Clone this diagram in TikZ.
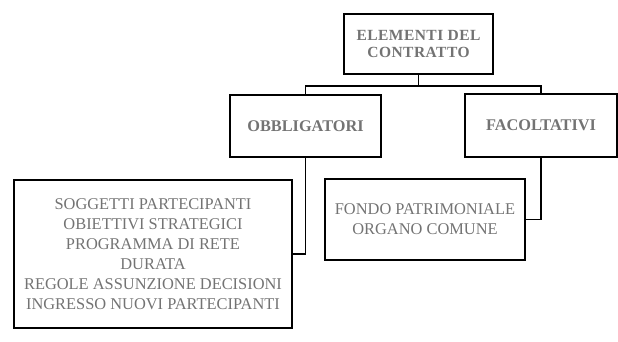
\documentclass[tikz,border=0pt]{standalone}
\usepackage{fontspec}
\setmainfont{Liberation Serif}
\usepackage{tikz}
\usetikzlibrary{positioning}
\definecolor{testo}{RGB}{115,115,115}

\begin{document}
\begin{tikzpicture}[x=1pt,y=1pt,
  box/.style={rectangle, draw=black, line width=1.7pt, text=testo, align=center, inner sep=0pt},
  link/.style={draw=black, line width=1.7pt}]
\useasboundingbox (0,0) rectangle (618,342);

\node [box, minimum width=149pt, minimum height=60pt, font=\bfseries\fontsize{15.5}{17}\selectfont\addfontfeature{LetterSpace=3}] (elementi) at (418.5,298) {ELEMENTI DEL\\CONTRATTO};
\node [box, minimum width=151pt, minimum height=62pt, font=\bfseries\fontsize{16.3}{18}\selectfont] (obbl) at (305.5,216) {OBBLIGATORI};
\node [box, minimum width=152pt, minimum height=63pt, font=\bfseries\fontsize{16.3}{18}\selectfont] (facolt) at (541,216.5) {FACOLTATIVI};
\node [box, minimum width=278pt, minimum height=148pt, font=\fontsize{16.4}{20}\selectfont] (elenco) at (153,88) {SOGGETTI PARTECIPANTI\\OBIETTIVI STRATEGICI\\PROGRAMMA DI RETE\\DURATA\\REGOLE ASSUNZIONE DECISIONI\\INGRESSO NUOVI PARTECIPANTI};
\node [box, minimum width=200pt, minimum height=81pt, font=\fontsize{16.4}{20}\selectfont] (fondo) at (425,122.5) {FONDO PATRIMONIALE\\ORGANO COMUNE};

\draw[link] (elementi.south) -- ++(0,-11) -| (obbl.north);
\draw[link] (elementi.south) -- ++(0,-11) -| (facolt.north);
\draw[link] (obbl.south) |- (elenco.east);
\draw[link] (facolt.south) |- (fondo.east);

\end{tikzpicture}
\end{document}
